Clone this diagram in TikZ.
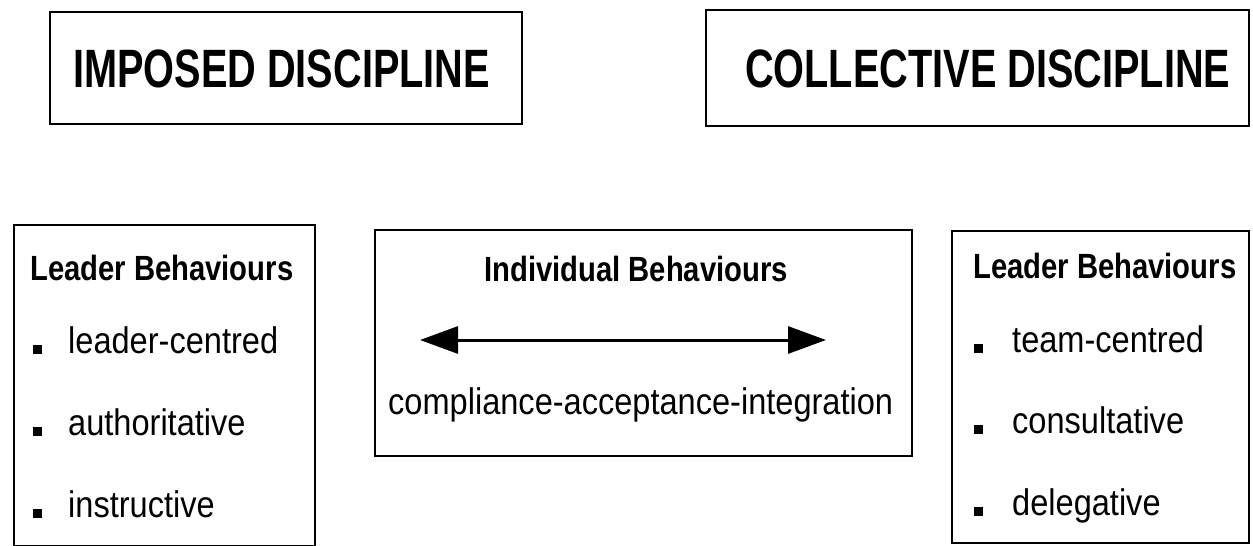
\documentclass[tikz,border=0pt]{standalone}
\usepackage{fontspec}
\usetikzlibrary{arrows.meta}
\newfontfamily\titlefont{Liberation Sans}[FakeStretch=0.735]
\newfontfamily\headfont{Liberation Sans}[FakeStretch=0.835]
\newfontfamily\itemfont{Liberation Sans}[FakeStretch=0.88]
\begin{document}
\begin{tikzpicture}[x=1pt,y=-1pt,
  box/.style={draw, line width=2.8pt, inner sep=0pt},
  ttl/.style={anchor=base west, inner sep=0pt, font=\titlefont\bfseries\fontsize{54}{60}\selectfont},
  hd/.style={anchor=base west, inner sep=0pt, font=\headfont\bfseries\fontsize{35}{40}\selectfont},
  itm/.style={anchor=base west, inner sep=0pt, font=\itemfont\fontsize{37}{42}\selectfont},
  bul/.style={fill, draw=none, inner sep=0pt, minimum size=9pt, anchor=south west},
  dblarrow/.style={line width=3pt, {Triangle[length=38pt,width=27pt]}-{Triangle[length=38pt,width=27pt]}}
]
\useasboundingbox (0,0) rectangle (1253,546);
% boxes
\node[box, minimum width=472pt, minimum height=112pt] (imp) at (286,68) {};
\node[box, minimum width=543pt, minimum height=116pt] (col) at (977.5,68) {};
\node[box, minimum width=301pt, minimum height=321pt] (lb) at (164.5,385.5) {};
\node[box, minimum width=537pt, minimum height=226pt] (mid) at (643.5,343) {};
\node[box, minimum width=297pt, minimum height=312pt] (rb) at (1100.5,387) {};
% titles
\node[ttl] (impt) at (73,87) {IMPOSED DISCIPLINE};
\node[ttl] (colt) at (745,87) {COLLECTIVE DISCIPLINE};
% left box
\node[hd] (lbh) at (30,280) {Leader Behaviours};
\node[bul] (lb1) at (33,354) {};
\node[bul] (lb2) at (33,436) {};
\node[bul] (lb3) at (33,518) {};
\node[itm] (lbi1) at (68,353) {leader-centred};
\node[itm] (lbi2) at (68,435) {authoritative};
\node[itm] (lbi3) at (68,517) {instructive};
% middle box
\node[hd] (mh) at (484,281) {Individual Behaviours};
\coordinate (al) at (420,340);
\coordinate (ar) at (826,340);
\draw[dblarrow] (al) -- (ar);
\node[itm] (mt) at (388,414) {compliance-acceptance-integration};
% right box
\node[hd] (rbh) at (973,278) {Leader Behaviours};
\node[bul] (rb1) at (974,353) {};
\node[bul] (rb2) at (974,434) {};
\node[bul] (rb3) at (974,516) {};
\node[itm] (rbi1) at (1012,352) {team-centred};
\node[itm] (rbi2) at (1012,433) {consultative};
\node[itm] (rbi3) at (1012,515) {delegative};
\end{tikzpicture}
\end{document}
